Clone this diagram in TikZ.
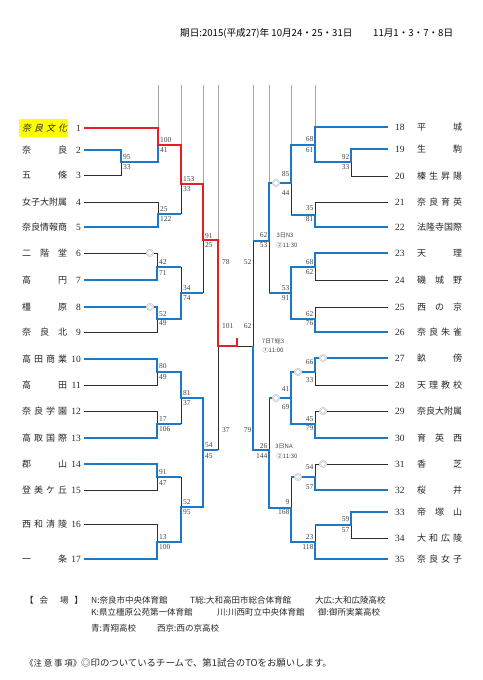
\documentclass[tikz,border=0pt]{standalone}
\usepackage{fontspec}
\setmainfont{Liberation Serif}
\newfontfamily\jp{Noto Sans CJK JP}
\newfontfamily\jpsl[FakeSlant=0.22]{Noto Sans CJK JP}
\definecolor{cred}{RGB}{230,30,40}
\definecolor{cblue}{RGB}{30,120,200}
\definecolor{cblack}{RGB}{45,45,45}
\definecolor{cgray}{RGB}{165,165,165}
\definecolor{cname}{RGB}{40,40,40}
\definecolor{cscore}{RGB}{70,70,70}
\definecolor{cmark}{RGB}{105,105,105}
\definecolor{cyel}{RGB}{255,255,0}
\def\spreadA#1{\ifx\relax#1\else\hfill#1\expandafter\spreadA\fi}
\def\spreadB#1{#1\spreadA}
\def\sprI#1{\makebox[45pt][s]{\spreadB#1\relax}}
\newcommand\spr[1]{\expandafter\sprI\expandafter{#1}}
\tikzset{
 redl/.style={draw=cred,line width=1.8pt},
 blul/.style={draw=cblue,line width=1.8pt},
 blkl/.style={draw=cblack,line width=0.9pt},
 gryl/.style={draw=cgray,line width=0.8pt},
 sc/.style={font=\fontsize{7.5}{8}\selectfont,text=cscore,inner sep=0pt},
 scl/.style={sc,anchor=west},
 scr/.style={sc,anchor=east},
 nm/.style={font=\jp\fontsize{9}{10}\selectfont,text=cname,inner sep=0pt,anchor=west},
 num/.style={font=\fontsize{9.5}{10}\selectfont,text=cname,inner sep=0pt},
 mk/.style={font=\jp\fontsize{8}{8}\selectfont,text=cmark,fill=white,inner sep=0.1pt},
 lbl/.style={font=\jp\fontsize{6}{7}\selectfont,text=cscore,inner sep=0pt},
 hdr/.style={font=\jp\fontsize{9.6}{10}\selectfont,text=black,inner sep=0pt,anchor=west},
 ft/.style={font=\jp\fontsize{8.5}{10}\selectfont,text=cname,inner sep=0pt,anchor=west},
}
\begin{document}
\begin{tikzpicture}[x=1pt,y=-1pt]
\useasboundingbox[fill=white] (0,0) rectangle (482,680);
% header
\node[hdr] (h1) at (180,33) {期日:2015(平成27)年 10月24・25・31日};
\node[hdr] (h2) at (373,33) {11月1・3・7・8日};
% gray top lines
\foreach \x/\y in {158/128,181/145,203/184,218/240,253/241,269/183,291/145,315/127}
  \draw[gryl] (\x,85) -- (\x,\y);
% yellow highlight
\fill[cyel] (19,119) rectangle (68,137);
% left names
\node[nm,font=\jpsl\fontsize{9}{10}\selectfont] (L1) at (22,128) {\spr{奈良文化}};
\foreach \i/\y/\t in {2/150/奈良,3/175/五條,4/202/女子大附属,5/227/奈良情報商,6/253/二階堂,7/280/高円,8/307/橿原,9/332/奈良北,10/359/高田商業,11/385/高田,12/411/奈良学園,13/438/高取国際,14/464/郡山,15/490/登美ケ丘,16/524/西和清陵,17/559/一条}
  \node[nm] (L\i) at (22,\y) {\spr{\t}};
\foreach \i/\y in {1/128,2/150,3/175,4/202,5/227,6/253,7/280,8/307,9/332,10/359,11/385,12/411,13/438,14/464,15/490,16/524,17/559}
  \node[num,anchor=east] (LN\i) at (81,\y) {\i};
% right names
\foreach \i/\y/\t in {18/127/平城,19/149/生駒,20/176/榛生昇陽,21/202/奈良育英,22/227/法隆寺国際,23/253/天理,24/280/磯城野,25/307/西の京,26/332/奈良朱雀,27/358/畝傍,28/385/天理教校,29/411/奈良大附属,30/438/育英西,31/464/香芝,32/490/桜井,33/512/帝塚山,34/538/大和広陵,35/559/奈良女子}
  {\node[nm] (R\i) at (417,\y) {\spr{\t}};
   \node[num,anchor=west] (RN\i) at (395,\y) {\i};}
% ---------- black (losing) lines, left
\draw[blkl] (84,175) -- (121,175) -- (121,162);
\draw[blkl] (84,202) -- (158,202) -- (158,214);
\draw[blkl] (181,214) -- (181,184);
\draw[blkl] (84,253) -- (157,253) -- (157,267);
\draw[blkl] (181,267) -- (181,293);
\draw[blkl] (203,293) -- (203,240);
\draw[blkl] (84,332) -- (157,332) -- (157,319);
\draw[blkl] (218,450) -- (218,346);
\draw[blkl] (84,385) -- (157,385) -- (157,372);
\draw[blkl] (84,411) -- (157,411) -- (157,424);
\draw[blkl] (181,424) -- (181,398);
\draw[blkl] (181,477) -- (181,507);
\draw[blkl] (84,490) -- (157,490) -- (157,477);
\draw[blkl] (84,524) -- (157,524) -- (157,542);
% black, right
\draw[blkl] (253,241) -- (253,346) -- (237,346);
\draw[blkl] (388,176) -- (351,176) -- (351,162);
\draw[blkl] (388,202) -- (315,202) -- (315,215);
\draw[blkl] (291,215) -- (291,183);
\draw[blkl] (388,280) -- (315,280) -- (315,267);
\draw[blkl] (388,307) -- (315,307) -- (315,319);
\draw[blkl] (269,293) -- (269,241);
\draw[blkl] (388,385) -- (315,385) -- (315,372);
\draw[blkl] (388,411) -- (315,411) -- (315,424);
\draw[blkl] (269,398) -- (269,450);
\draw[blkl] (388,464) -- (315,464) -- (315,477);
\draw[blkl] (291,477) -- (291,508);
\draw[blkl] (315,525) -- (315,542);
\draw[blkl] (388,538) -- (351,538) -- (351,525);
% ---------- blue (winning) lines, left
\draw[blul] (84,150) -- (121,150) -- (121,162) -- (158,162) -- (158,145);
\draw[blul] (84,227) -- (158,227) -- (158,214) -- (181,214);
\draw[blul] (84,280) -- (157,280) -- (157,267) -- (181,267);
\draw[blul] (84,307) -- (157,307) -- (157,319) -- (181,319) -- (181,293) -- (203,293);
\draw[blul] (84,359) -- (157,359) -- (157,372) -- (181,372) -- (181,398) -- (203,398) -- (203,450) -- (218,450);
\draw[blul] (84,438) -- (157,438) -- (157,424) -- (181,424);
\draw[blul] (84,464) -- (157,464) -- (157,477) -- (181,477);
\draw[blul] (84,559) -- (157,559) -- (157,542) -- (181,542) -- (181,507) -- (203,507) -- (203,450);
% blue, right
\draw[blul] (388,127) -- (315,127) -- (315,145) -- (291,145) -- (291,183) -- (269,183) -- (269,241) -- (253,241);
\draw[blul] (388,149) -- (351,149) -- (351,162) -- (315,162) -- (315,145);
\draw[blul] (388,227) -- (315,227) -- (315,215) -- (291,215);
\draw[blul] (388,253) -- (315,253) -- (315,267) -- (291,267) -- (291,293);
\draw[blul] (388,332) -- (315,332) -- (315,319) -- (291,319) -- (291,293) -- (269,293);
\draw[blul] (388,358) -- (315,358) -- (315,372) -- (291,372) -- (291,398);
\draw[blul] (388,438) -- (315,438) -- (315,424) -- (291,424) -- (291,398) -- (269,398);
\draw[blul] (388,490) -- (315,490) -- (315,477) -- (291,477);
\draw[blul] (388,512) -- (351,512) -- (351,525) -- (315,525);
\draw[blul] (388,559) -- (315,559) -- (315,542) -- (291,542) -- (291,508) -- (269,508) -- (269,450) -- (253,450) -- (253,346);
% ---------- red (champion)
\draw[redl] (84,128) -- (158,128) -- (158,145) -- (181,145) -- (181,184) -- (203,184) -- (203,240) -- (218,240) -- (218,346) -- (237,346) -- (237,338);
% ---------- TO marks
\foreach \x/\y in {150/253,150/307,323/358,323/411,323/464,276/183,298/372,276/398,298/477}
  \node[mk] at (\x,\y) {◎};
% ---------- scores left
\foreach \x/\y/\s in {158/140/100,158/150/41,121/157/95,121/167/33,181/179/153,181/189/33,158/209/25,158/219/122,203/236/91,203/245/25,157/262/42,157/273/71,181/288/34,181/298/74,157/314/52,157/323/49,157/366/80,157/377/49,181/393/81,181/403/37,157/419/17,157/429/106,203/445/54,203/456/45,157/472/91,157/483/47,181/502/52,181/512/95,157/537/13,157/547/100,220/262/78,220/326/101,220/430/37}
  \node[scl] at (\x+2,\y) {\s};
% scores right
\foreach \x/\y/\s in {253/262/52,253/326/62,253/430/79,315/139/68,315/150/61,351/157/92,351/167/33,291/174/85,291/193/44,315/208/35,315/219/81,269/235/62,269/245/53,315/262/68,315/272/62,291/288/53,291/298/91,315/314/62,315/323/76,315/362/66,315/380/33,291/389/41,291/407/69,315/419/45,315/428/79,269/446/26,269/456/144,315/467/54,315/487/57,291/502/9,291/512/168,351/519/59,351/530/57,315/537/23,315/547/118}
  \node[scr] at (\x-1.5,\y) {\s};
% ---------- match labels
\node[lbl] (m1a) at (285,235) {3日N3};
\node[lbl] (m1b) at (287,245) {②11:30};
\node[lbl] (m2a) at (273,341) {7日T総3};
\node[lbl] (m2b) at (273,350) {①11:00};
\node[lbl] (m3a) at (284,446) {3日NA};
\node[lbl] (m3b) at (287,456) {②11:30};
% ---------- footer
\node[ft] (f0) at (25,600) {【\hspace{0.7em}会\hspace{1.4em}場\hspace{0.7em}】};
\node[ft] (f1) at (91,600) {N:奈良市中央体育館};
\node[ft] (f2) at (190,600) {T総:大和高田市総合体育館};
\node[ft] (f3) at (315,600) {大広:大和広陵高校};
\node[ft] (f4) at (91,612) {K:県立橿原公苑第一体育館};
\node[ft] (f5) at (217,612) {川:川西町立中央体育館};
\node[ft] (f6) at (318,612) {御:御所実業高校};
\node[ft] (f7) at (91,628) {青:青翔高校};
\node[ft] (f8) at (157,628) {西京:西の京高校};
\node[ft] (f9) at (25,663) {《注\hspace{0.2em}意\hspace{0.2em}事\hspace{0.2em}項》};
\node[ft,font=\jp\fontsize{9.4}{10}\selectfont] (f10) at (81,663) {◎印のついているチームで、第1試合のTOをお願いします。};
\end{tikzpicture}
\end{document}
